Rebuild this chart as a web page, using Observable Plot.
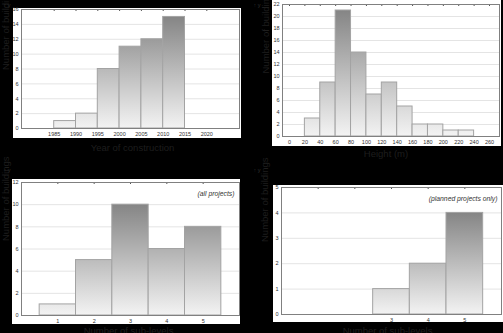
<!DOCTYPE html>
<html>
<head>
<meta charset="utf-8">
<script src="https://cdn.jsdelivr.net/npm/d3@7"></script>
<script src="https://cdn.jsdelivr.net/npm/@observablehq/plot@0.6"></script>
<style>
  html, body { margin: 0; padding: 0; background: #000; }
  #root { position: relative; width: 503px; height: 333px; background: #000; overflow: hidden; }
  .bg { position: absolute; background: #fff; }
  .panel { position: absolute; }
  .panel svg { overflow: visible; }
</style>
</head>
<body>
<div id="root"></div>
<script>
// ---- data ----
const yearBinStarts = [1985, 1990, 1995, 2000, 2005, 2010];
const yearCounts = [1, 2, 8, 11, 12, 15];
const yearTicks = [1985, 1990, 1995, 2000, 2005, 2010, 2015, 2020];

const heightBinStarts = [20, 40, 60, 80, 100, 120, 140, 160, 180, 200, 220];
const heightCounts = [3, 9, 21, 14, 7, 9, 5, 2, 2, 1, 1];
const heightTicks = [0, 20, 40, 60, 80, 100, 120, 140, 160, 180, 200, 220, 240, 260];

const subLevelsAll = [1, 2, 3, 4, 5];
const subCountsAll = [1, 5, 10, 6, 8];
const subLevelsPlanned = [3, 4, 5];
const subCountsPlanned = [1, 2, 4];
const subTicks = [1, 2, 3, 4, 5];

const yLabel = "Number of buildings";

const root = document.getElementById("root");

function addBg(x, y, w, h) {
  const d = document.createElement("div");
  d.className = "bg";
  Object.assign(d.style, {left: x + "px", top: y + "px", width: w + "px", height: h + "px"});
  root.appendChild(d);
}

let gid = 0;
function panel(o) {
  const id = "grad" + (gid++);
  const data = o.starts.map((s, i) => ({x1: s - o.half, x2: s - o.half + o.width, y: o.counts[i]}));
  const ymax = d3.max(o.counts);
  const fmt = d => String(d);
  const tickLen = o.yMax * 2 / (o.h - o.mt - o.mb);
  const marks = [
    Plot.gridY(o.yTicks, {stroke: "#e4e4e4", strokeOpacity: 1}),
    Plot.rectY(data, {x1: "x1", x2: "x2", y: "y", fill: `url(#${id})`, stroke: "#a3a3a3", strokeWidth: 1}),
    Plot.ruleX(o.xTicks, {x: d => d, y1: o.yMax, y2: o.yMax - tickLen, stroke: "#555"}),
    Plot.frame({stroke: "#808080"}),
    Plot.axisY({ticks: o.yTicks, tickSize: 0, tickPadding: 3, fontSize: 5.5, fill: "#333", tickFormat: fmt}),
    Plot.axisX({ticks: o.xLabelTicks, tickSize: 0, tickPadding: 4, fontSize: 5.5, fill: "#333", tickFormat: fmt}),
    Plot.text([o.xLabel], {frameAnchor: "bottom", dy: o.xDy, dx: o.xDx || 0, fontSize: 9.5, fill: "#1e1e1e", lineAnchor: "middle"}),
    Plot.text([yLabel], {frameAnchor: "left", dx: o.yDx, dy: o.yDy || 0, rotate: -90, fontSize: 9.5, fill: "#1e1e1e", lineAnchor: "middle"})
  ];
  if (o.note) {
    marks.push(Plot.text([o.note], {frameAnchor: "top-right", dx: o.noteDx, dy: o.noteDy, textAnchor: "end", lineAnchor: "middle", fontSize: 6.8, fontStyle: "italic", fill: "#333"}));
  }
  const svg = Plot.plot({
    width: o.w, height: o.h,
    marginLeft: o.ml, marginRight: o.mr, marginTop: o.mt, marginBottom: o.mb,
    x: {domain: o.xDomain, axis: null},
    y: {domain: [0, o.yMax], axis: null},
    style: {background: "transparent", fontFamily: "Liberation Sans, Arial, sans-serif", color: "#333"},
    marks
  });
  const ys = svg.scale("y");
  const py0 = ys.apply(0), py1 = ys.apply(ymax);
  const ns = "http://www.w3.org/2000/svg";
  const defs = document.createElementNS(ns, "defs");
  const lg = document.createElementNS(ns, "linearGradient");
  lg.setAttribute("id", id);
  lg.setAttribute("gradientUnits", "userSpaceOnUse");
  lg.setAttribute("x1", 0); lg.setAttribute("x2", 0);
  lg.setAttribute("y1", py0); lg.setAttribute("y2", py1);
  [[0, "#f3f3f3"], [1, "#858585"]].forEach(([off, c]) => {
    const s = document.createElementNS(ns, "stop");
    s.setAttribute("offset", off);
    s.setAttribute("stop-color", c);
    lg.appendChild(s);
  });
  defs.appendChild(lg);
  svg.insertBefore(defs, svg.firstChild);
  const wrap = document.createElement("div");
  wrap.className = "panel";
  wrap.style.left = o.left + "px";
  wrap.style.top = o.top + "px";
  wrap.appendChild(svg);
  root.appendChild(wrap);
}

// white backgrounds
addBg(13, 8, 228, 130);
addBg(272, 0, 229, 146);
addBg(12, 179, 228, 145);
addBg(273, 185, 230, 137);

// Panel 1: Year of construction
panel({
  left: 0, top: 0, w: 250, h: 160, ml: 21, mr: 11, mt: 9, mb: 32,
  starts: yearBinStarts, counts: yearCounts, half: 0, width: 5,
  xDomain: [1977.5, 2027.5], xTicks: yearTicks, xLabelTicks: yearTicks,
  yMax: 16, yTicks: d3.range(0, 17, 2),
  xLabel: "Year of construction", xDy: 19, xDx: 2, yDx: -16, yDy: 1
});

// Panel 2: Height
panel({
  left: 250, top: 0, w: 253, h: 165, ml: 32, mr: 4, mt: 4, mb: 29,
  starts: heightBinStarts, counts: heightCounts, half: 0, width: 20,
  xDomain: [-9.1, 273], xTicks: heightTicks, xLabelTicks: heightTicks,
  yMax: 22, yTicks: d3.range(0, 23, 2),
  xLabel: "Height (m)", xDy: 17, xDx: -5, yDx: -17, yDy: 3
});

// Panel 3: sub-levels, all projects
panel({
  left: 0, top: 165, w: 250, h: 168, ml: 21, mr: 11, mt: 17, mb: 18,
  starts: subLevelsAll, counts: subCountsAll, half: 0.5, width: 1,
  xDomain: [0, 6], xTicks: subTicks, xLabelTicks: subTicks,
  yMax: 12, yTicks: d3.range(0, 13, 2),
  xLabel: "Number of sub-levels", xDy: 15, xDx: -2, yDx: -16, yDy: -8,
  note: "(all projects)", noteDx: -5, noteDy: 11
});

// Panel 4: sub-levels, planned projects only
panel({
  left: 250, top: 165, w: 253, h: 168, ml: 31, mr: 2, mt: 22, mb: 19,
  starts: subLevelsPlanned, counts: subCountsPlanned, half: 0.5, width: 1,
  xDomain: [0, 6], xTicks: subTicks, xLabelTicks: subLevelsPlanned,
  yMax: 5, yTicks: d3.range(0, 6, 1),
  xLabel: "Number of sub-levels", xDy: 16, xDx: -4, yDx: -17, yDy: -9,
  note: "(planned projects only)", noteDx: -4, noteDy: 11
});
</script>
</body>
</html>
